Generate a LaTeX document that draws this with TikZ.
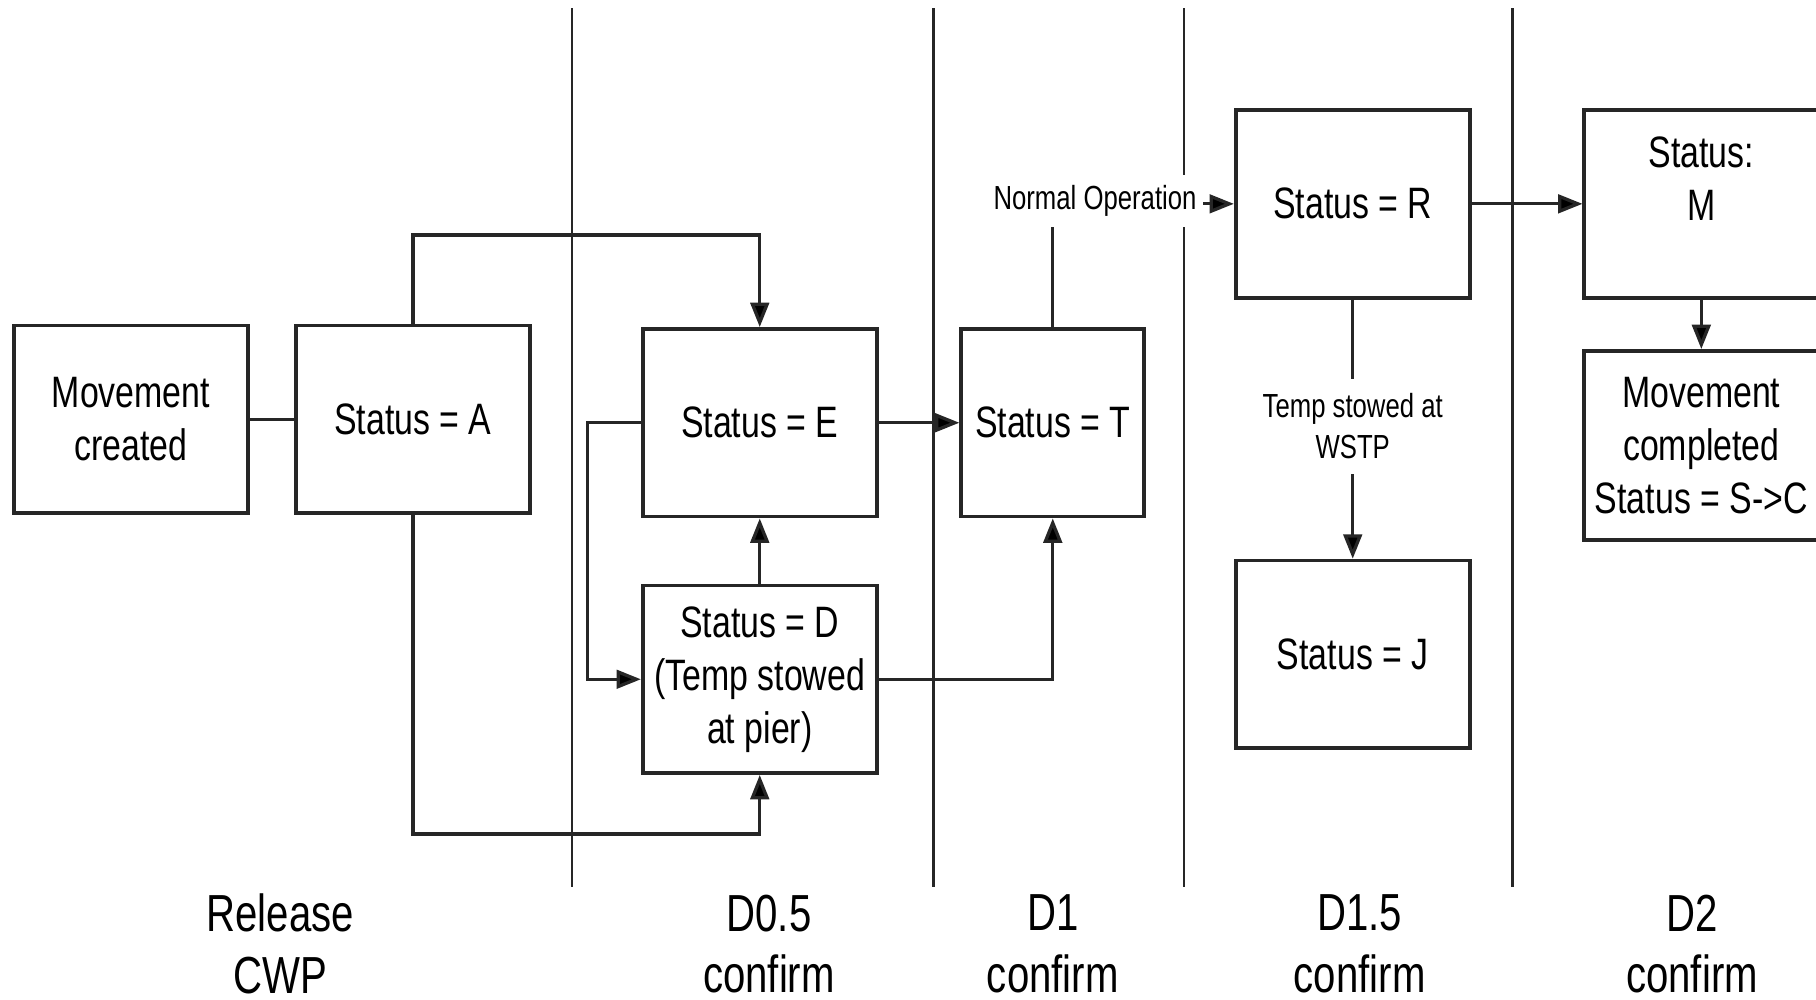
\documentclass[tikz,border=0pt]{standalone}
\usepackage{fontspec}
\setmainfont{Liberation Sans}[FakeStretch=0.77]
\usetikzlibrary{arrows.meta}

\tikzset{
  box/.style={draw=black!85, line width=0.9pt, fill=white, minimum width=2.02cm,
    minimum height=1.62cm, inner sep=0pt, align=center, font=\fontsize{10.8}{13}\selectfont},
  plain/.style={inner sep=0pt, align=center, font=\fontsize{10.8}{13}\selectfont},
  note/.style={inner sep=0pt, fill=white, align=center, font=\fontsize{8.2}{10.2}\selectfont},
  phase/.style={inner sep=0pt, align=center, font=\fontsize{12.8}{15.1}\selectfont},
  divider/.style={draw=black!85, line width=0.55pt},
  conn/.style={draw=black!85, line width=0.8pt},
  arr/.style={conn, -{Triangle[length=0.21cm, width=0.16cm, fill=black]}}
}

\begin{document}
\begin{tikzpicture}[x=0.01cm, y=-0.01cm]
  \clip (0,0) rectangle (1568,863);
  \fill[white] (0,0) rectangle (1568,863);

  % phase separators
  \draw[divider] (494,7) coordinate (s1a) -- (494,766) coordinate (s1b);
  \draw[divider] (806,7) coordinate (s2a) -- (806,766) coordinate (s2b);
  \draw[divider] (1022,7) coordinate (s3a) -- (1022,766) coordinate (s3b);
  \draw[divider] (1306,7) coordinate (s4a) -- (1306,766) coordinate (s4b);

  % state boxes
  \node[box] (mv) at (113,362) {Movement\\created};
  \node[box] (A) at (356.5,362) {Status = A};
  \node[box] (E) at (656,365) {Status = E};
  \node[box, minimum width=1.58cm] (T) at (909,365) {Status = T};
  \node[box] (D) at (656,586.5) {Status = D\\(Temp stowed\\at pier)};
  \node[box] (R) at (1168,176) {Status = R};
  \node[box] (J) at (1168,565) {Status = J};
  \node[box] (M) at (1469,176) {};
  \node[plain, anchor=center] (Mtxt) at (1469,154) {Status:\\M};
  \node[box, minimum height=1.63cm] (MC) at (1469,384.5) {Movement\\completed\\Status = S->C};

  % bend points
  \coordinate (topbend) at (656,203);
  \coordinate (botbend) at (656,720);
  \coordinate (ebend) at (507,586.5);

  % connectors
  \draw[conn] (mv.east) -- (A.west);
  \draw[arr] (A.north) |- (topbend) -- (E.north);
  \draw[arr] (A.south) |- (botbend) -- (D.south);
  \draw[arr] (E.west) -| (ebend) -- (D.west);
  \draw[arr] (D.north) -- (E.south);
  \draw[arr] (E.east) -- (T.west);
  \draw[arr] (D.east) -| (T.south);
  \draw[arr] (T.north) |- (R.west);
  \draw[arr] (R.east) -- (M.west);
  \draw[arr] (M.south) -- (MC.north);
  \draw[arr] (R.south) -- (J.north);

  % connector labels
  \node[note, minimum width=1.87cm, minimum height=0.45cm] (normal) at (945.5,173.5) {Normal Operation};
  \node[note, minimum width=1.7cm, minimum height=0.82cm] (wstp) at (1168,368) {Temp stowed at\\WSTP};

  % phase names
  \node[phase] (p0) at (242,815) {Release\\CWP};
  \node[phase] (p1) at (664,815) {D0.5\\confirm};
  \node[phase] (p2) at (909,815) {D1\\confirm};
  \node[phase] (p3) at (1174,815) {D1.5\\confirm};
  \node[phase] (p4) at (1461,815) {D2\\confirm};
\end{tikzpicture}
\end{document}
